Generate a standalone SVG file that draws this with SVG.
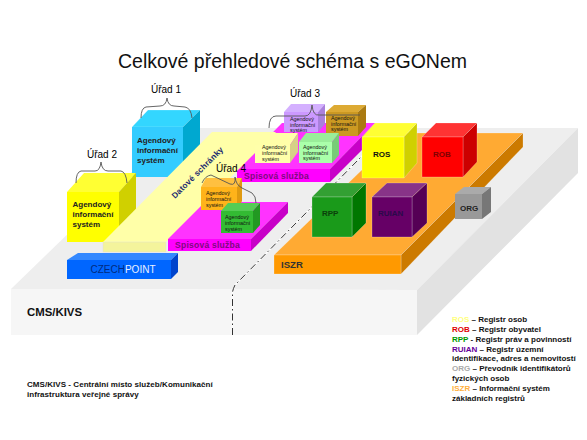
<svg xmlns="http://www.w3.org/2000/svg" width="587" height="440" viewBox="0 0 587 440">
<style>
text{font-family:"Liberation Sans",Arial,sans-serif;fill:#111}
.b{font-weight:bold}
.ur{font-size:10px;text-anchor:middle;fill:#000}
.ais{font-size:8px;font-weight:bold;fill:#222}
.sm{font-size:5.4px;fill:#111}
.sp{font-size:8.6px;font-weight:bold;fill:#800a80;letter-spacing:.2px}
.lab{font-size:8px;font-weight:bold}
.leg{font-size:8px;font-weight:bold;fill:#111}
.brace{fill:none;stroke:#555;stroke-width:.9}
.e{stroke:#fff;stroke-width:.4;stroke-opacity:.55}
</style>
<rect width="587" height="440" fill="#fff"/>
<text id="title" x="118" y="68" font-size="19.5px" fill="#000">Celkové přehledové schéma s eGONem</text>

<g id="cms">
<polygon points="11,289 177,128 578,128 417,290" fill="#eeeeee"/>
<polygon points="417,290 578,128 578,173 417,335" fill="#e2e2e2"/>
<polygon points="11,289 417,290 417,335 11,335" fill="#f6f6f6"/>
<text x="27" y="316" font-size="11.4px" class="b">CMS/KIVS</text>
</g>

<g id="connectors">
<path d="M232.500 335V293Q232.500 290 235 285L363 155" fill="none" stroke="#fff" stroke-width="1.400"/>
<path d="M232.500 335V293Q232.500 290 235 285L363 155" fill="none" stroke="#333" stroke-width="1" stroke-dasharray="7 3 1.500 3"/>
</g>

<g id="iszr">
<polygon class="e" points="274,255 401,255 523,133 400,133" fill="#ffaa33"/>
<polygon class="e" points="401,255 523,133 523,147 401,274" fill="#cc7a00"/>
<rect class="e" x="274" y="255" width="127" height="19" fill="#ff9900"/>
<text x="281" y="268" font-size="9.600px" class="b" style="fill:#333">ISZR</text>
</g>

<g id="urad1">
<polygon class="e" points="132,127 183,127 200,110 148,110" fill="#33d6ff"/>
<polygon points="183,127 200,110 200,158 183,177" fill="#00a8d0"/>
<rect x="132" y="127" width="51" height="50" fill="#33ccff"/>
<text class="ais" x="137" y="143">Agendový</text><text class="ais" x="137" y="153">informační</text><text class="ais" x="137" y="163">systém</text>
</g>
<g id="urad2">
<polygon points="67,192 119,192 136,173 84,173" fill="#ffff33"/>
<polygon points="119,192 136,173 136,223 119,242" fill="#d0d000"/>
<rect x="67" y="192" width="52" height="50" fill="#ffff00"/>
<text class="ais" x="72.500" y="207">Agendový</text><text class="ais" x="72.500" y="217">informační</text><text class="ais" x="72.500" y="227">systém</text>
</g>

<g id="spisova-horni">
<polygon points="237,169 330,169 375,123 282,123" fill="#ff33ff"/>
<polygon points="330,169 375,123 375,137 330,182" fill="#c800c8"/>
<rect x="237" y="169" width="93" height="13" fill="#ff00ff"/>
<text class="sp" x="244" y="179">Spisová služba</text>
</g>

<g id="datove-schranky">
<polygon points="103,242 166,242 239,169 256,152 276,132 212,132" fill="#ffffa8"/>
<rect x="103" y="242" width="63" height="10" fill="#f4f49c" stroke="#ddd" stroke-width=".4"/>
<text transform="translate(175 199) rotate(-45)" font-size="8.200px" class="b" style="fill:#1c2a70;letter-spacing:.25px">Datové schránky</text>
</g>

<g id="urad3-ais1">
<polygon points="284,112 318,112 325,104 291,104" fill="#d4b0ff"/>
<polygon points="318,112 325,104 325,124 318,132" fill="#aa80dd"/>
<rect x="284" y="112" width="34" height="20" fill="#cc99ff"/>
<text class="sm" x="290" y="121">Agendový</text><text class="sm" x="290" y="126.500">informační</text><text class="sm" x="290" y="132">systém</text>
</g>
<g id="urad3-ais2">
<polygon points="326,112 358,112 366,105 334,105" fill="#ddaa33"/>
<polygon points="358,112 366,105 366,127 358,136" fill="#aa7a11"/>
<rect x="326" y="112" width="32" height="24" fill="#cc9922"/>
<text class="sm" x="331" y="120">Agendový</text><text class="sm" x="331" y="125.500">informační</text><text class="sm" x="331" y="131">systém</text>
</g>
<g id="urad3-ais3">
<polygon points="299,142 332,142 339,133 306,133" fill="#99ee99"/>
<polygon points="332,142 339,133 339,155 332,163" fill="#77cc77"/>
<rect x="299" y="142" width="33" height="21" fill="#aaffaa"/>
<text class="sm" x="303" y="149">Agendový</text><text class="sm" x="303" y="154.500">informační</text><text class="sm" x="303" y="160">systém</text>
</g>
<g id="urad3-ais4">
<polygon points="255,145 290,145 298,133 263,133" fill="#ffffa8"/>
<polygon points="290,145 298,133 298,152 290,163" fill="#d6d088"/>
<rect x="255" y="145" width="35" height="18" fill="#ffffaa"/>
<text class="sm" x="262" y="149">Agendový</text><text class="sm" x="262" y="155">informační</text><text class="sm" x="262" y="160.500">systém</text>
</g>

<g id="spisova-dolni">
<polygon points="168,239 251,239 288,202 205,202" fill="#ff33ff"/>
<polygon points="251,239 288,202 288,213 251,251" fill="#c800c8"/>
<rect x="168" y="239" width="83" height="12" fill="#ff00ff"/>
<text class="sp" x="175" y="248">Spisová služba</text>
</g>

<g id="urad4-ais1">
<polygon points="201,187 237,187 242,178 206,178" fill="#ffc040"/>
<polygon points="237,187 242,178 242,201 237,210" fill="#e09a10"/>
<rect x="201" y="187" width="36" height="23" fill="#ffb31a"/>
<text class="sm" x="206" y="195">Agendový</text><text class="sm" x="206" y="201">informační</text><text class="sm" x="206" y="207">systém</text>
</g>
<g id="urad4-ais2">
<polygon points="221,211 253,211 260,203 228,203" fill="#55cc55"/>
<polygon points="253,211 260,203 260,225 253,233" fill="#229922"/>
<rect x="221" y="211" width="32" height="22" fill="#33bb33"/>
<text class="sm" x="225" y="219">Agendový</text><text class="sm" x="225" y="224.500">informační</text><text class="sm" x="225" y="231">systém</text>
</g>

<g id="ros">
<polygon class="e" points="362,137 404,137 417,123 375,123" fill="#ffff33"/>
<polygon class="e" points="404,137 417,123 417,163 404,178" fill="#d0d000"/>
<rect class="e" x="362" y="137" width="42" height="41" fill="#ffff00"/>
<text class="lab" x="373" y="157">ROS</text>
</g>
<g id="rob">
<polygon class="e" points="422,137 463,137 477,123 436,123" fill="#ff3333"/>
<polygon class="e" points="463,137 477,123 477,162 463,177" fill="#cc0000"/>
<rect class="e" x="422" y="137" width="41" height="40" fill="#ff0000"/>
<text class="lab" x="433" y="157" style="fill:#800000">ROB</text>
</g>
<g id="rpp">
<polygon class="e" points="312,197 352,197 366,183 326,183" fill="#33a033"/>
<polygon class="e" points="352,197 366,183 366,223 352,237" fill="#007700"/>
<rect class="e" x="312" y="197" width="40" height="40" fill="#1a9a1a"/>
<text class="lab" x="322" y="216" style="fill:#0a400a">RPP</text>
</g>
<g id="ruian">
<polygon class="e" points="372,197 412,197 427,183 387,183" fill="#883388"/>
<polygon class="e" points="412,197 427,183 427,223 412,237" fill="#550055"/>
<rect class="e" x="372" y="197" width="40" height="40" fill="#660066"/>
<text class="lab" x="378" y="216" style="fill:#2a0a4a">RUIAN</text>
</g>
<g id="org">
<polygon points="455,194 482,194 491,187 464,187" fill="#aaa"/>
<polygon points="482,194 491,187 491,212 482,219" fill="#777"/>
<rect x="455" y="194" width="27" height="25" fill="#999"/>
<text class="lab" x="460" y="211" style="fill:#222">ORG</text>
</g>

<g id="czechpoint">
<polygon points="67,260 171,260 178,253 78,253" fill="#3388ff"/>
<polygon points="171,260 178,253 178,272 171,279" fill="#0044cc"/>
<rect x="67" y="260" width="104" height="19" fill="#0066ff"/>
<text x="90.500" y="273" font-size="10px" style="fill:#002a80">CZECH<tspan style="fill:#e8f0ff">POINT</tspan></text>
</g>

<g id="urady">
<path class="brace" d="M141 118Q141 108 146 107L160 106Q166 106 167 98Q168 106 174 106L185 107Q191 108 192 118"/>
<text class="ur" x="166" y="93">Úřad 1</text>
<path class="brace" d="M76 183Q76 172 81 171L95 171Q100 171 101 162Q102 171 108 171L121 171Q126 172 127 183"/>
<text class="ur" x="102" y="158">Úřad 2</text>
<path class="brace" d="M269 128Q269 116 276 116L305 116Q311 116 312 105Q313 116 319 115L360 115"/>
<text class="ur" x="305" y="97">Úřad 3</text>
<path class="brace" d="M202 183Q205 176 211 175L230 184Q236 186 235 177Q236 185 242 188L252 193Q256 196 256 203"/>
<text class="ur" x="231" y="172">Úřad 4</text>
</g>

<g id="poznamka">
<text class="leg" x="27" y="387" style="letter-spacing:.05px">CMS/KIVS - Centrální místo služeb/Komunikační</text>
<text class="leg" x="27" y="397" style="letter-spacing:.05px">infrastruktura veřejné správy</text>
</g>
<g id="legenda">
<text class="leg" x="452" y="322"><tspan style="fill:#ffff80">ROS</tspan> – Registr osob</text>
<text class="leg" x="452" y="332"><tspan style="fill:#e00000">ROB</tspan> – Registr obyvatel</text>
<text class="leg" x="452" y="342"><tspan style="fill:#009900">RPP</tspan> -  Registr práv a povinností</text>
<text class="leg" x="452" y="352"><tspan style="fill:#660099">RUIAN</tspan> – Registr územní</text>
<text class="leg" x="452" y="361">identifikace, adres a nemovitostí</text>
<text class="leg" x="452" y="371"><tspan style="fill:#aaa">ORG</tspan> – Převodník identifikátorů</text>
<text class="leg" x="452" y="381">fyzických osob</text>
<text class="leg" x="452" y="391"><tspan style="fill:#ffb040">ISZR</tspan> – Informační systém</text>
<text class="leg" x="452" y="401">základních registrů</text>
</g>
</svg>
